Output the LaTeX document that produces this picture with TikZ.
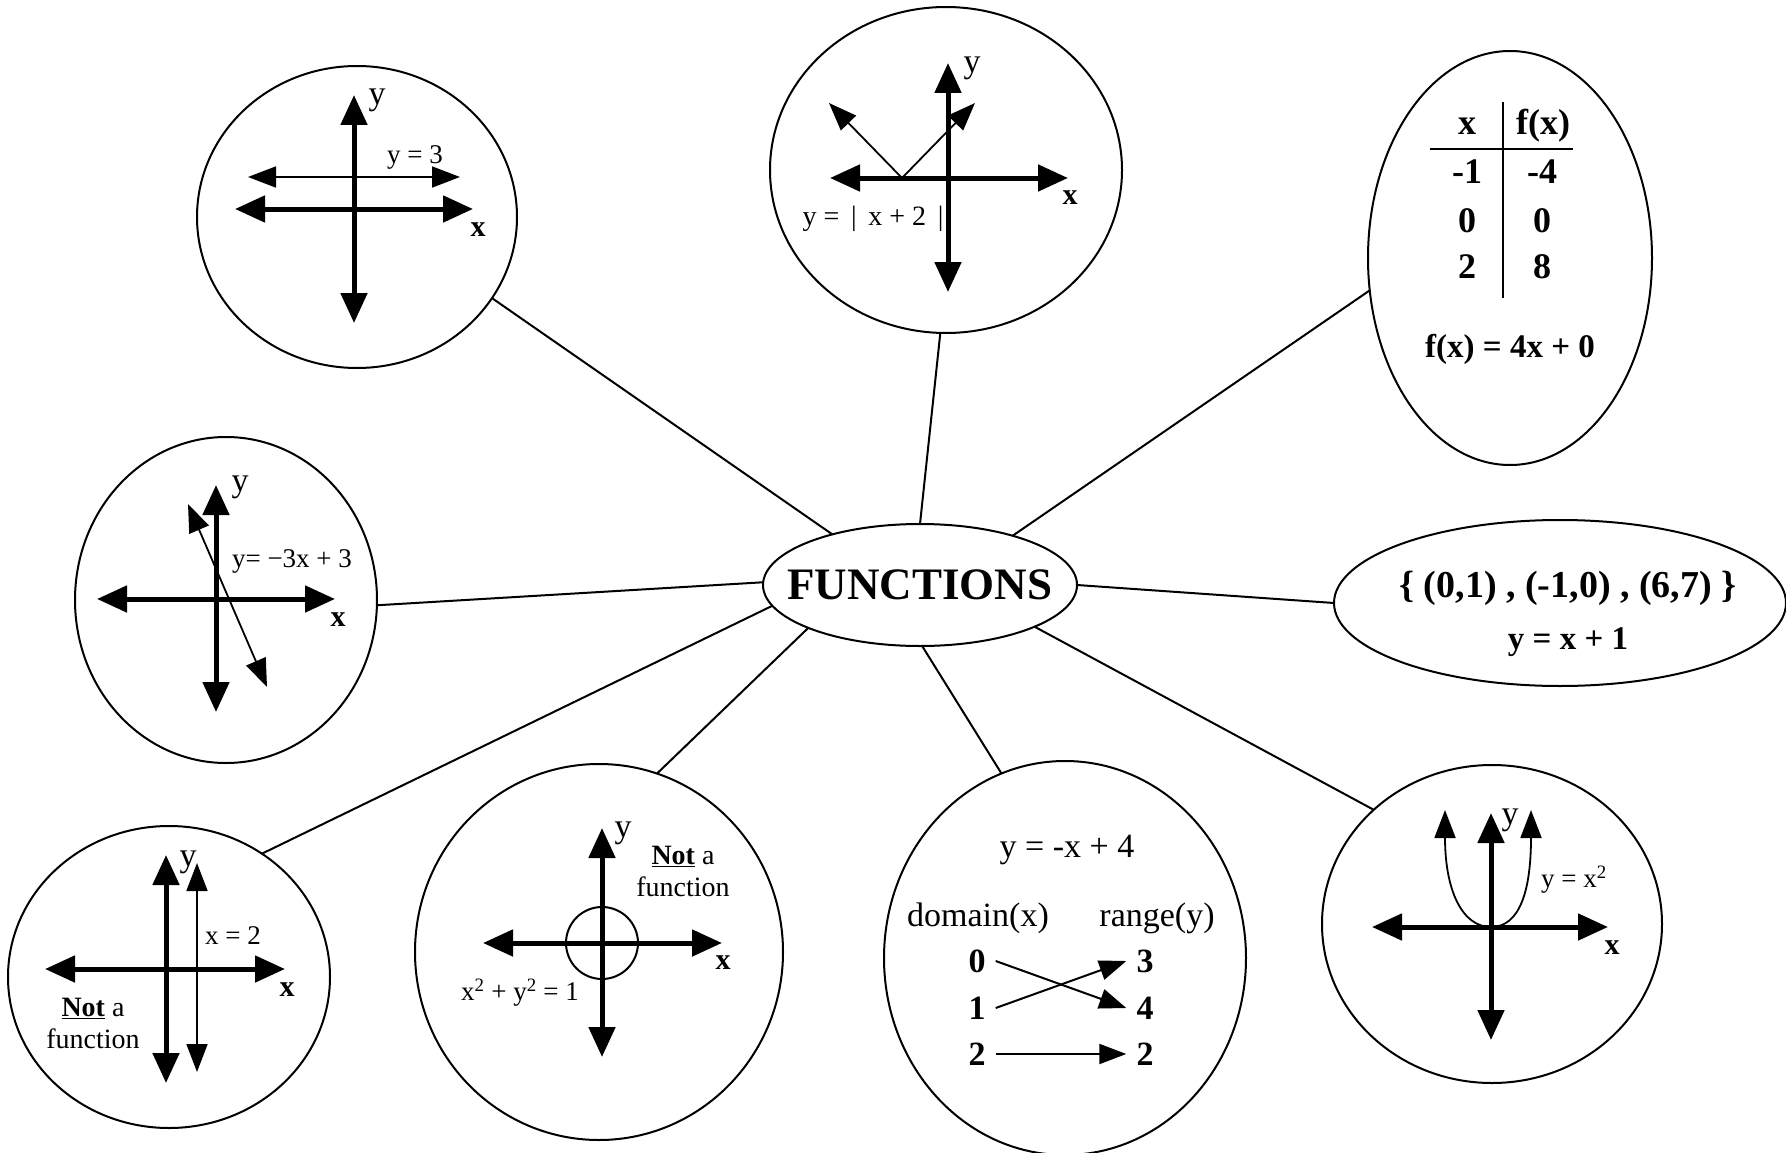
\documentclass[tikz,border=0pt]{standalone}
\usepackage{fontspec}
\setmainfont{Liberation Serif}
\usetikzlibrary{arrows.meta,positioning,shapes.geometric}
\tikzset{
  bub/.style={ellipse, draw, line width=2pt, inner sep=0pt, outer sep=0pt},
  hub/.style={bub, minimum width=314pt, minimum height=122pt},
  spoke/.style={line width=2pt},
  axis/.style={{Triangle[length=30pt,width=26pt]}-{Triangle[length=30pt,width=26pt]}, line width=5pt},
  fline/.style={{Triangle[length=28pt,width=21pt]}-{Triangle[length=28pt,width=21pt]}, line width=1.8pt},
  onearrow/.style={-{Triangle[length=27pt,width=20pt]}, line width=2pt},
  title/.style={font=\bfseries\fontsize{45}{50}\selectfont, inner sep=0pt},
  lbl/.style={font=\fontsize{27}{30}\selectfont, inner sep=0pt},
  note/.style={font=\fontsize{28}{32}\selectfont, align=center, inner sep=0pt},
  xlab/.style={font=\bfseries\fontsize{30}{34}\selectfont, inner sep=0pt},
  ylab/.style={font=\fontsize{34}{38}\selectfont, inner sep=0pt},
  tab/.style={font=\bfseries\fontsize{36}{40}\selectfont, inner sep=0pt},
  pairs/.style={font=\bfseries\fontsize{38}{42}\selectfont, inner sep=0pt},
  dom/.style={font=\fontsize{34}{38}\selectfont, inner sep=0pt},
  dig/.style={font=\bfseries\fontsize{34}{38}\selectfont, inner xsep=10pt, inner ysep=0pt},
}
\newcommand{\axes}[6]{%
  \draw[axis] (#3,#2) -- (#4,#2);
  \draw[axis] (#1,#5) -- (#1,#6);}

\begin{document}
\begin{tikzpicture}[x=1pt, y=-1pt]
  \useasboundingbox (0,0) rectangle (1786,1153);
  % hub and bubbles
  \node[hub] (fn) at (920,585) {};
  \node[title] (fnt) at (fn.center) {FUNCTIONS};
  \node[bub, minimum width=320pt, minimum height=302pt] (c1) at (357,217) {};
  \node[bub, minimum width=352pt, minimum height=326pt] (c2) at (946,170) {};
  \node[bub, minimum width=284pt, minimum height=414pt] (c3) at (1510,258) {};
  \node[bub, minimum width=302pt, minimum height=326pt] (c4) at (226,600) {};
  \node[bub, minimum width=452pt, minimum height=166pt] (c5) at (1560,603) {};
  \node[bub, minimum width=322pt, minimum height=302pt] (c6) at (169,977) {};
  \node[bub, minimum width=368pt, minimum height=376pt] (c7) at (599,952) {};
  \node[bub, minimum width=362pt, minimum height=394pt] (c8) at (1065,958) {};
  \node[bub, minimum width=340pt, minimum height=318pt] (c9) at (1492,924) {};
  \foreach \a/\n/\b in {150/c1/329, 90/c2/268, 28/c3/193, 179/c4/358, 0/c5/180,
      188/c6/53, 201/c7/72, 272/c8/109, 340/c9/136}
    \draw[spoke] (fn.\a) -- (\n.\b);
  % y = 3
  \axes{354}{209}{235}{473}{95}{323}
  \draw[fline] (248,177) -- (460,177);
  \node[lbl] (l1) at (415,157) {y = 3};
  \node[xlab] (x1) at (478,230) {x};
  \node[ylab] (y1) at (377,100) {y};
  % y = |x+2|
  \axes{948}{178}{830}{1068}{63}{292}
  \draw[fline] (829,103) -- (902,178) -- (975,103);
  \node[lbl, font=\fontsize{28}{30}\selectfont] (l2) at (873,219) {y = \,|\, x + 2 \,|};
  \node[xlab] (x2) at (1070,198) {x};
  \node[ylab] (y2) at (972,68) {y};
  % table
  \draw[line width=2pt] (1503,102) -- (1503,298);
  \draw[line width=2pt] (1430,149) -- (1573,149);
  \node[tab, anchor=base] (th1) at (1467,135) {x};
  \node[tab, anchor=base] (th2) at (1543,135) {f(x)};
  \foreach \u/\v/\yy in {-1/-4/183, 0/0/232, 2/8/278}{
    \node[tab, anchor=base] (tl\yy) at (1467,\yy) {\u};
    \node[tab, anchor=base] (tr\yy) at (1542,\yy) {\v};}
  \node[tab, anchor=base, font=\bfseries\fontsize{33}{36}\selectfont] (rule3) at (1510,357) {f(x) = 4x + 0};
  % y = -3x + 3
  \axes{216}{599}{97}{335}{485}{712}
  \draw[fline] (188,504) -- (267,687);
  \node[lbl] (l4) at (292,561) {y= −3x + 3};
  \node[xlab] (x4) at (338,620) {x};
  \node[ylab] (y4) at (240,487) {y};
  % ordered pairs
  \node[pairs] (p5) at (1568,588) {\{ (0,1) , (-1,0) , (6,7) \}};
  \node[pairs, font=\bfseries\fontsize{33}{36}\selectfont] (e5) at (1568,642) {y = x + 1};
  % x = 2
  \axes{166}{969}{45}{285}{855}{1083}
  \draw[fline] (197,863) -- (197,1072);
  \node[lbl] (l6) at (233,936) {x = 2};
  \node[xlab] (x6) at (287,990) {x};
  \node[ylab] (y6) at (188,862) {y};
  \node[note] (n6) at (93,1023) {\underline{\textbf{Not}} a\\function};
  % circle
  \axes{602}{943}{483}{722}{828}{1057}
  \draw[line width=2pt] (602,943) circle[radius=36pt];
  \node[lbl] (l7) at (520,993) {x\textsuperscript{2} + y\textsuperscript{2} = 1};
  \node[xlab] (x7) at (723,963) {x};
  \node[ylab] (y7) at (623,833) {y};
  \node[note] (n7) at (683,871) {\underline{\textbf{Not}} a\\function};
  % mapping
  \node[dom] (e8) at (1067,850) {y = -x + 4};
  \node[dom] (dm) at (978,918) {domain(x)};
  \node[dom] (rg) at (1157,918) {range(y)};
  \node[dig] (d0) at (977,961) {0};
  \node[dig] (d1) at (977,1008) {1};
  \node[dig] (d2) at (977,1054) {2};
  \node[dig] (r3) at (1145,961) {3};
  \node[dig] (r4) at (1145,1008) {4};
  \node[dig] (r2) at (1145,1054) {2};
  \draw[onearrow] (d0.east) -- (r4.west);
  \draw[onearrow] (d1.east) -- (r3.west);
  \draw[onearrow] (d2.east) -- (r2.west);
  % y = x^2
  \axes{1491}{927}{1372}{1608}{813}{1040}
  \draw[fline] (1445,810) .. controls (1445,890) and (1462,927) .. (1491,927)
    .. controls (1520,927) and (1531,890) .. (1531,810);
  \node[lbl] (l9) at (1574,880) {y = x\textsuperscript{2}};
  \node[xlab] (x9) at (1612,948) {x};
  \node[ylab] (y9) at (1510,820) {y};
\end{tikzpicture}
\end{document}
